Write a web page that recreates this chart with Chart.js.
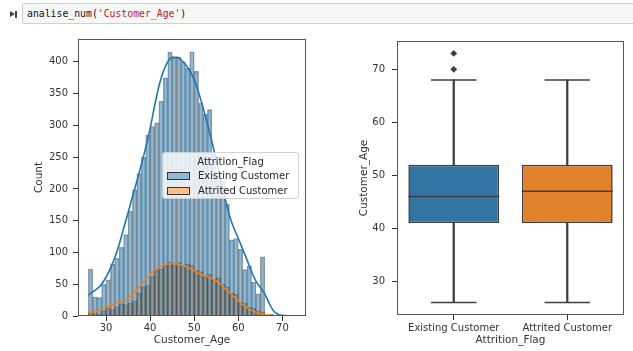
<!DOCTYPE html>
<html>
<head>
<meta charset="utf-8">
<script src="https://cdn.jsdelivr.net/npm/chart.js@4.4.0/dist/chart.umd.min.js"></script>
<style>
  body { margin: 0; width: 633px; height: 351px; background: #fff; position: relative; overflow: hidden; font-family: 'DejaVu Sans', sans-serif; }
  #cell { position: absolute; left: 22px; top: 3px; width: 620px; height: 21px; background: #f7f7f7; border: 1px solid #cfcfcf; border-radius: 2px; box-sizing: border-box; }
  #code { position: absolute; left: 27px; top: 6px; font: 9.8px 'DejaVu Sans Mono', monospace; line-height: 16px; color: #111; white-space: pre; }
  #code .str { color: #ba2121; }
  #runTri { position: absolute; left: 10px; top: 11px; width: 0; height: 0; border-top: 3.5px solid transparent; border-bottom: 3.5px solid transparent; border-left: 5px solid #444; }
  #runBar { position: absolute; left: 15px; top: 11px; width: 1.5px; height: 7px; background: #444; }
  canvas { position: absolute; }
  #histChart { left: 33px; top: 28px; }
  #boxChart { left: 358px; top: 28px; }
  #legend { position: absolute; left: 162px; top: 152px; width: 137px; height: 47px; box-sizing: border-box; border: 1px solid rgba(200,200,200,0.8); border-radius: 3px; background: rgba(255,255,255,0.8); font-size: 10px; color: #262626; z-index: 2; }
  #legend .title { position: absolute; left: 0; width: 100%; top: 3px; text-align: center; }
  #legend .row { position: absolute; left: 4px; height: 12px; line-height: 12px; }
  #legend .sw { position: absolute; left: 0; top: 2px; width: 21px; height: 6px; border: 1px solid #333; }
  #legend .lbl { position: absolute; left: 31px; top: 0; white-space: nowrap; }
</style>
</head>
<body>
<div id="runTri"></div><div id="runBar"></div>
<div id="cell"></div>
<div id="code">analise_num(<span class="str">'Customer_Age'</span>)</div>

<canvas id="histChart" width="287" height="323"></canvas>
<canvas id="boxChart" width="275" height="323"></canvas>

<div id="legend">
  <div class="title">Attrition_Flag</div>
  <div class="row" style="top:17px"><div class="sw" style="background:#8fbbd9"></div><div class="lbl">Existing Customer</div></div>
  <div class="row" style="top:32px"><div class="sw" style="background:#ffbf86"></div><div class="lbl">Attrited Customer</div></div>
</div>

<script>
// Histogram: bin left edges (width 1) and counts per group
const ages = [26,27,28,29,30,31,32,33,34,35,36,37,38,39,40,41,42,43,44,45,46,47,48,49,50,51,52,53,54,55,56,57,58,59,60,61,62,63,64,65,66,67,68,69,70,71,72];
const existingCounts = [74,30,29,50,57,82,91,108,128,165,199,224,250,285,298,304,338,375,415,406,408,400,390,416,385,335,318,325,255,220,212,176,120,122,105,73,79,53,35,93,1,3,1,0,1,0,1];
const attritedCounts = [6,4,3,8,13,10,15,19,18,20,24,36,46,48,62,72,74,82,85,80,84,79,82,80,72,70,62,66,58,60,50,46,36,34,22,20,14,12,8,6,1,1,1,0,0,0,0];

// KDE curves (scaled to counts)
const kdeAgesExisting = [26,27,28,29,30,31,32,33,34,35,36,37,38,39,40,41,42,43,44,45,46,47,48,49,50,51,52,53,54,55,56,57,58,59,60,61,62,63,64,65,66,67,68,69,70,71,72,73];
const kdeExisting = [33,38,43,50,61,75,92,113,138,162,188,212,238,265,295,330,362,385,400,407,407,403,396,386,372,352,328,302,275,245,215,185,158,138,122,105,88,70,55,45,35,20,8,3,1,0.5,0.3,0.2];
const kdeAgesAttrited = [26,27,28,29,30,31,32,33,34,35,36,37,38,39,40,41,42,43,44,45,46,47,48,49,50,51,52,53,54,55,56,57,58,59,60,61,62,63,64,65,66,67,68];
const kdeAttrited = [5,6,8,11,14,17,19,22,24,28,34,42,50,58,65,72,77,80,82,83,82,80,78,75,71,67,64,62,59,55,50,43,37,30,24,18,13,9,6,4,2,1,0.5];

const histTicksX = [30,40,50,60,70];
const histTicksY = [0,50,100,150,200,250,300,350,400];

// Boxplot
const boxCats = ['Existing Customer', 'Attrited Customer'];
const boxQ1 = [41, 41];
const boxMedian = [46, 47];
const boxQ3 = [52, 52];
const whiskerLow = [26, 26];
const whiskerHigh = [68, 68];
const outliers = [[70, 73], []];
const boxTicksY = [30,40,50,60,70];

const tickFont = { family: 'DejaVu Sans', size: 10 };
const titleFont = { family: 'DejaVu Sans', size: 10.5 };
const ink = '#333';

// full frame like matplotlib spines
const framePlugin = {
  id: 'frame',
  afterDatasetsDraw(chart) {
    const { ctx, chartArea: a } = chart;
    ctx.save();
    ctx.strokeStyle = '#555';
    ctx.lineWidth = 1;
    ctx.strokeRect(Math.round(a.left) + 0.5, Math.round(a.top) + 0.5, Math.round(a.right - a.left) - 1, Math.round(a.bottom - a.top) - 1);
    ctx.restore();
  }
};

function fixedTicks(list) {
  return function(scale) { scale.ticks = list.map(v => ({ value: v })); };
}

// ---- left: histogram + kde
new Chart(document.getElementById('histChart'), {
  type: 'bar',
  data: {
    datasets: [
      {
        type: 'line', label: 'kde existing',
        data: kdeAgesExisting.map((a, i) => ({ x: a, y: kdeExisting[i] })),
        borderColor: '#1f77b4', borderWidth: 1.6, pointRadius: 0, fill: false,
        cubicInterpolationMode: 'monotone'
      },
      {
        type: 'line', label: 'kde attrited',
        data: kdeAgesAttrited.map((a, i) => ({ x: a, y: kdeAttrited[i] })),
        borderColor: '#ff7f0e', borderWidth: 1.6, pointRadius: 0, fill: false,
        cubicInterpolationMode: 'monotone'
      },
      {
        label: 'Existing Customer',
        data: ages.map((a, i) => ({ x: a + 0.5, y: existingCounts[i] })),
        backgroundColor: 'rgba(31,119,180,0.5)',
        borderColor: 'rgba(40,40,40,0.45)', borderWidth: 0.8,
        barPercentage: 1, categoryPercentage: 1, grouped: false
      },
      {
        label: 'Attrited Customer',
        data: ages.map((a, i) => ({ x: a + 0.5, y: attritedCounts[i] })),
        backgroundColor: 'rgba(255,127,14,0.5)',
        borderColor: 'rgba(40,40,40,0.45)', borderWidth: 0.8,
        barPercentage: 1, categoryPercentage: 1, grouped: false
      }
    ]
  },
  options: {
    responsive: false, animation: false, devicePixelRatio: 1,
    layout: { autoPadding: false, padding: { left: 0, right: 14, top: 9, bottom: 4 } },
    plugins: { legend: { display: false }, tooltip: { enabled: false } },
    scales: {
      x: {
        type: 'linear', min: 23.65, max: 75.35, offset: false,
        afterBuildTicks: fixedTicks(histTicksX),
        afterFit: s => { s.height = 31; },
        border: { display: false },
        grid: { offset: false, drawOnChartArea: false, drawTicks: true, tickLength: 5, color: ink },
        ticks: { font: tickFont, color: ink, padding: 1, maxRotation: 0 },
        title: { display: true, text: 'Customer_Age', font: titleFont, color: ink, padding: 0 }
      },
      y: {
        min: 0, max: 436,
        afterBuildTicks: fixedTicks(histTicksY),
        afterFit: s => { s.width = 45; },
        border: { display: false },
        grid: { drawOnChartArea: false, drawTicks: true, tickLength: 5, color: ink },
        ticks: { font: tickFont, color: ink, padding: 5 },
        title: { display: true, text: 'Count', font: titleFont, color: ink, padding: 0 }
      }
    }
  },
  plugins: [framePlugin]
});

// ---- right: boxplot built from floating bars and point markers
const boxLine = '#3f3f3f';
const outlierPts = [];
boxCats.forEach((c, i) => outliers[i].forEach(v => outlierPts.push({ x: c, y: v })));

new Chart(document.getElementById('boxChart'), {
  type: 'bar',
  data: {
    labels: boxCats,
    datasets: [
      {
        type: 'scatter', label: 'outliers', data: outlierPts,
        pointStyle: 'rectRot', pointRadius: 3.4, backgroundColor: boxLine, borderColor: boxLine, borderWidth: 0
      },
      {
        type: 'scatter', label: 'median',
        data: boxCats.map((c, i) => ({ x: c, y: boxMedian[i] })),
        pointStyle: 'line', pointRadius: 45.5, borderColor: boxLine, borderWidth: 1.6
      },
      {
        type: 'scatter', label: 'caps',
        data: boxCats.flatMap((c, i) => [{ x: c, y: whiskerLow[i] }, { x: c, y: whiskerHigh[i] }]),
        pointStyle: 'line', pointRadius: 22.7, borderColor: boxLine, borderWidth: 1.6
      },
      {
        label: 'box',
        data: boxCats.map((c, i) => [boxQ1[i], boxQ3[i]]),
        backgroundColor: ['#3274a1', '#e1812c'],
        borderColor: boxLine, borderWidth: 1.6, borderSkipped: false,
        barPercentage: 0.8, categoryPercentage: 1, grouped: false
      },
      {
        label: 'whisker low',
        data: boxCats.map((c, i) => [whiskerLow[i], boxQ1[i]]),
        backgroundColor: boxLine, barThickness: 1.6, grouped: false
      },
      {
        label: 'whisker high',
        data: boxCats.map((c, i) => [boxQ3[i], whiskerHigh[i]]),
        backgroundColor: boxLine, barThickness: 1.6, grouped: false
      }
    ]
  },
  options: {
    responsive: false, animation: false, devicePixelRatio: 1,
    layout: { autoPadding: false, padding: { left: 0, right: 9, top: 8, bottom: 4 } },
    plugins: { legend: { display: false }, tooltip: { enabled: false } },
    scales: {
      x: {
        type: 'category', offset: true,
        afterFit: s => { s.height = 32; },
        border: { display: false },
        grid: { offset: false, drawOnChartArea: false, drawTicks: true, tickLength: 5, color: ink },
        ticks: { font: tickFont, color: ink, padding: 2, maxRotation: 0, autoSkip: false },
        title: { display: true, text: 'Attrition_Flag', font: titleFont, color: ink, padding: 0 }
      },
      y: {
        min: 23.65, max: 75.35,
        afterBuildTicks: fixedTicks(boxTicksY),
        afterFit: s => { s.width = 39; },
        border: { display: false },
        grid: { drawOnChartArea: false, drawTicks: true, tickLength: 5, color: ink },
        ticks: { font: tickFont, color: ink, padding: 7 },
        title: { display: true, text: 'Customer_Age', font: titleFont, color: ink, padding: 0 }
      }
    }
  },
  plugins: [framePlugin]
});
</script>
</body>
</html>
